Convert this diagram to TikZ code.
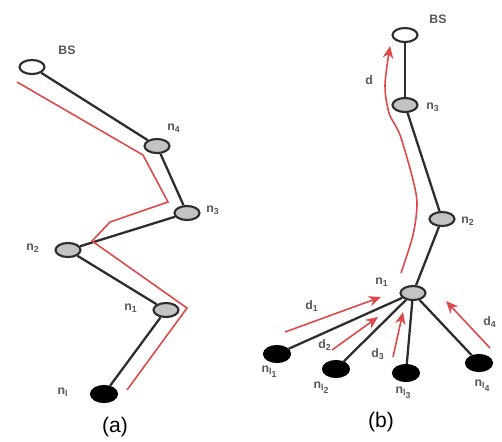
\documentclass[tikz,border=0pt]{standalone}
\usepackage{fontspec}
\setmainfont{Liberation Sans}
\usetikzlibrary{shapes.geometric, arrows.meta, positioning, calc}
\definecolor{pathred}{RGB}{222, 72, 72}
\definecolor{relaygray}{RGB}{195, 195, 195}
\definecolor{edgegray}{RGB}{45, 45, 45}

\begin{document}
\begin{tikzpicture}[x=0.02cm, y=-0.02cm,
    sink/.style={ellipse, draw=edgegray, line width=1.2pt, fill=white, minimum width=0.5cm, minimum height=0.28cm, inner sep=0pt},
    relay/.style={sink, fill=relaygray},
    source/.style={sink, fill=black, draw=black, minimum width=0.52cm, minimum height=0.32cm},
    link/.style={edgegray, line width=1.3pt},
    flow/.style={pathred, line width=0.9pt},
    flowarrow/.style={flow, -{Stealth[length=7pt, width=6pt]}},
    lbl/.style={font=\fontsize{7}{8}\selectfont\bfseries, text=edgegray!80},
    panelcap/.style={font=\fontsize{12}{14}\selectfont}
]
\useasboundingbox (0,0) rectangle (502,441);

% (a) chain of relays
\node[sink] (bsa) at (32,67) {};
\node[relay] (n4a) at (157,146) {};
\node[relay] (n3a) at (187,213) {};
\node[relay] (n2a) at (68,250) {};
\node[relay] (n1a) at (166,310) {};
\node[source] (nla) at (104,394) {};

\node[lbl] (bsalbl) at (67,50) {BS};
\node[lbl] (n4albl) at (174,128) {n\textsubscript{4}};
\node[lbl] (n3albl) at (213,210) {n\textsubscript{3}};
\node[lbl] (n2albl) at (33,248) {n\textsubscript{2}};
\node[lbl] (n1albl) at (131,308) {n\textsubscript{1}};
\node[lbl] (nlalbl) at (63,392) {n\textsubscript{l}};

\draw[link] (bsa) -- (n4a);
\draw[link] (n4a) -- (n3a);
\draw[link] (n3a) -- (n2a);
\draw[link] (n2a) -- (n1a);
\draw[link] (n1a) -- (nla);

% red route along the chain
\coordinate (ra0) at (17,82);
\coordinate (ra1) at (143,155);
\coordinate (ra2) at (168,202);
\coordinate (ra3) at (110,222);
\coordinate (ra4) at (92,241);
\coordinate (ra5) at (187,308);
\coordinate (ra6) at (127,390);
\draw[flow] (ra0) -- (ra1) -- (ra2) -- (ra3) -- (ra4) -- (ra5) -- (ra6);

\node[panelcap] (capa) at (115,427) {(a)};

% (b) tree with four sources
\node[sink] (bsb) at (405,35) {};
\node[relay] (n3b) at (405,105) {};
\node[relay] (n2b) at (442,219) {};
\node[relay] (n1b) at (413,293) {};
\node[source] (l1) at (277,354) {};
\node[source] (l2) at (336,369) {};
\node[source] (l3) at (406,373) {};
\node[source] (l4) at (479,363) {};

\node[lbl] (bsblbl) at (438,19) {BS};
\node[lbl] (n3blbl) at (433,107) {n\textsubscript{3}};
\node[lbl] (n2blbl) at (468,221) {n\textsubscript{2}};
\node[lbl] (n1blbl) at (382,282) {n\textsubscript{1}};
\node[lbl] (l1lbl) at (270,372) {n\textsubscript{l\textsubscript{1}}};
\node[lbl] (l2lbl) at (322,388) {n\textsubscript{l\textsubscript{2}}};
\node[lbl] (l3lbl) at (404,393) {n\textsubscript{l\textsubscript{3}}};
\node[lbl] (l4lbl) at (483,386) {n\textsubscript{l\textsubscript{4}}};

\draw[link] (bsb) -- (n3b);
\draw[link] (n3b) -- (n2b);
\draw[link] (n2b) -- (n1b);
\foreach \leaf in {l1, l2, l3, l4}
    \draw[link] (n1b) -- (\leaf);

% red flows
\coordinate (dd0) at (401,273);
\coordinate (dd1) at (413,235);
\coordinate (dd2) at (417,203);
\coordinate (dd3) at (412,176);
\coordinate (dd4) at (400,135);
\coordinate (dd5) at (389,113);
\coordinate (dd6) at (385,85);
\coordinate (dd7) at (390,46);
\draw[flowarrow] plot[smooth] coordinates {(dd0) (dd1) (dd2) (dd3) (dd4) (dd5) (dd6) (dd7)};

\coordinate (d1s) at (285,332);
\coordinate (d1e) at (381,297);
\coordinate (d2s) at (332,350);
\coordinate (d2e) at (378,317);
\coordinate (d3s) at (393,357);
\coordinate (d3e) at (403,312);
\coordinate (d4s) at (490,348);
\coordinate (d4e) at (446,301);
\draw[flowarrow] (d1s) -- (d1e);
\draw[flowarrow] (d2s) -- (d2e);
\draw[flowarrow] (d3s) -- (d3e);
\draw[flowarrow] (d4s) -- (d4e);

\node[lbl] (dlbl) at (369,80) {d};
\node[lbl] (d1lbl) at (312,306) {d\textsubscript{1}};
\node[lbl] (d2lbl) at (325,345) {d\textsubscript{2}};
\node[lbl] (d3lbl) at (378,354) {d\textsubscript{3}};
\node[lbl] (d4lbl) at (490,322) {d\textsubscript{4}};

\node[panelcap] (capb) at (381,422) {(b)};
\end{tikzpicture}
\end{document}
